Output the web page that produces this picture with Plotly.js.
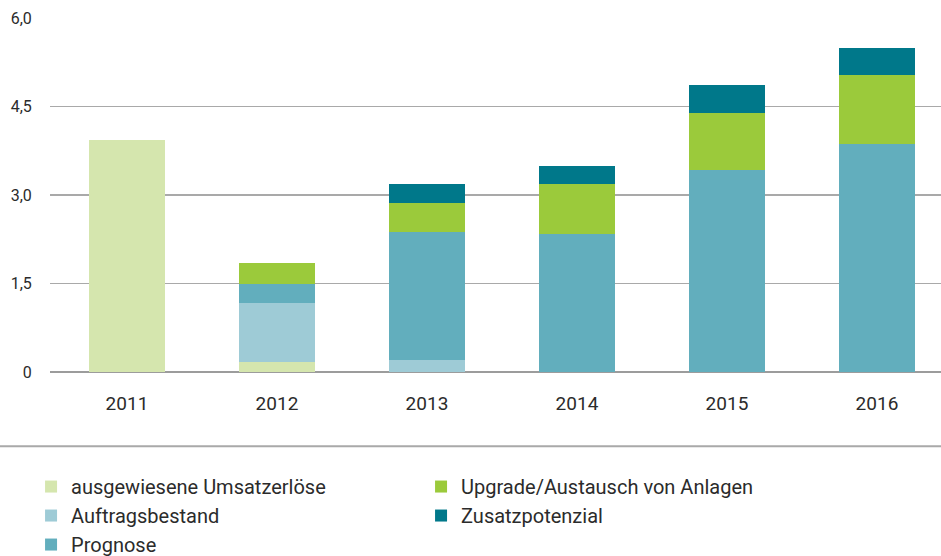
<!DOCTYPE html>
<html>
<head>
<meta charset="utf-8">
<script src="https://cdn.plot.ly/plotly-3.0.1.min.js"></script>
<style>html,body{margin:0;padding:0;background:#fff;}#chart{width:941px;height:556px;}</style>
</head>
<body>
<div id="chart"></div>
<script>
var years = ['2011', '2012', '2013', '2014', '2015', '2016'];
var ausgewiesene = [3.94, 0.17, 0, 0, 0, 0];
var auftragsbestand = [0, 1.00, 0.20, 0, 0, 0];
var prognose = [0, 0.33, 2.17, 2.34, 3.43, 3.86];
var upgrade = [0, 0.34, 0.50, 0.85, 0.97, 1.18];
var zusatz = [0, 0, 0.32, 0.31, 0.47, 0.46];
var yTickVals = [0, 1.5, 3.0, 4.5, 6.0];
var yTickText = ['0', '1,5', '3,0', '4,5', '6,0'];

var FONT = 'Roboto, "Liberation Sans", sans-serif';

function bar(name, vals, color, rank) {
  return {
    type: 'bar', x: years, y: vals, name: name,
    marker: {color: color, line: {width: 0}},
    legendrank: rank, hoverinfo: 'skip'
  };
}

var data = [
  bar('ausgewiesene Umsatzerlöse', ausgewiesene, '#d5e6ae', 1),
  bar('Auftragsbestand', auftragsbestand, '#9ecbd6', 3),
  bar('Prognose', prognose, '#62aebd', 5),
  bar('Upgrade/Austausch von Anlagen', upgrade, '#9bca3b', 2),
  bar('Zusatzpotenzial', zusatz, '#00788a', 4)
];

var layout = {
  width: 941, height: 556,
  margin: {l: 50, r: 0, t: 18, b: 184, pad: 0},
  paper_bgcolor: '#fff', plot_bgcolor: '#fff',
  barmode: 'stack', bargap: 0.493,
  font: {family: FONT, color: '#2b2b2b', size: 15},
  showlegend: true,
  legend: {
    orientation: 'h', traceorder: 'normal',
    xref: 'container', yref: 'container',
    x: 0.033, xanchor: 'left', y: 0.16, yanchor: 'top',
    entrywidth: 345, entrywidthmode: 'pixels',
    font: {family: FONT, size: 20, color: '#2b2b2b'},
    itemclick: false, bgcolor: 'rgba(0,0,0,0)'
  },
  xaxis: {
    type: 'category', range: [-0.513, 5.427],
    showgrid: false, zeroline: false, showline: false,
    ticks: 'outside', ticklen: 14, tickcolor: 'rgba(0,0,0,0)',
    tickfont: {family: FONT, size: 19, color: '#2b2b2b'}, fixedrange: true
  },
  yaxis: {
    range: [0, 6.003], tickvals: yTickVals, ticktext: yTickText,
    showgrid: true, gridcolor: '#a9a9a9', gridwidth: 1.2,
    zeroline: true, zerolinecolor: '#9c9c9c', zerolinewidth: 2.2,
    showline: false, ticks: 'outside', ticklen: 14, tickcolor: 'rgba(0,0,0,0)',
    tickfont: {family: FONT, size: 16, color: '#2b2b2b'}, fixedrange: true
  },
  shapes: [{
    type: 'line', xref: 'paper', yref: 'paper',
    x0: -50 / 891, x1: 1, y0: -0.2096, y1: -0.2096,
    line: {color: '#a9a9a9', width: 2}
  }]
};

Plotly.newPlot('chart', data, layout, {displayModeBar: false, staticPlot: true});
</script>
</body>
</html>
